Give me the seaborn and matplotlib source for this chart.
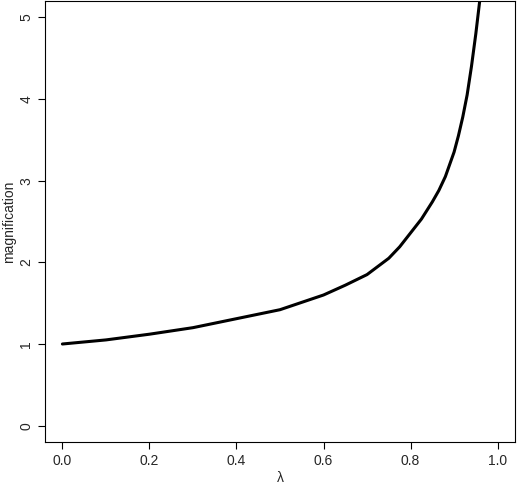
import matplotlib
matplotlib.use("Agg")
import matplotlib.pyplot as plt
import seaborn as sns
import pandas as pd

lam = [0.0, 0.1, 0.2, 0.3, 0.4, 0.5, 0.55, 0.6, 0.65, 0.7, 0.725, 0.75, 0.775, 0.8, 0.825, 0.85, 0.865, 0.88, 0.89, 0.9, 0.91, 0.92, 0.93, 0.94, 0.95, 0.96]
mag = [1.0, 1.05, 1.12, 1.2, 1.31, 1.42, 1.51, 1.6, 1.72, 1.85, 1.95, 2.05, 2.19, 2.36, 2.53, 2.74, 2.88, 3.05, 3.2, 3.35, 3.55, 3.78, 4.05, 4.4, 4.8, 5.25]
yticks = [0, 1, 2, 3, 4, 5]
xticks = [0.0, 0.2, 0.4, 0.6, 0.8, 1.0]

sns.set_style("white")
plt.rcParams['font.family'] = ['Liberation Sans', 'DejaVu Sans']
fig = plt.figure(figsize=(5.18, 4.84), dpi=100)
ax = fig.add_axes([45/518, 42/484, 470/518, 441/484])
df = pd.DataFrame({"lam": lam, "mag": mag})
sns.lineplot(data=df, x="lam", y="mag", color="black", linewidth=2.2, ax=ax)
ax.set_xlim(-0.04, 1.04)
ax.set_ylim(-0.2, 5.2)
ax.set_xticks(xticks)
ax.set_xticklabels([f"{v:.1f}" for v in xticks])
ax.set_yticks(yticks)
ax.set_yticklabels([str(v) for v in yticks], rotation=90, va="center")
ax.tick_params(direction="out", length=5, labelsize=10, bottom=True, left=True, color="black")
for s in ax.spines.values():
    s.set_color("black"); s.set_linewidth(0.8)
ax.set_xlabel("λ", fontsize=10, labelpad=2)
ax.set_ylabel("magnification", fontsize=10, labelpad=2)
fig.savefig("out.png", dpi=100)
